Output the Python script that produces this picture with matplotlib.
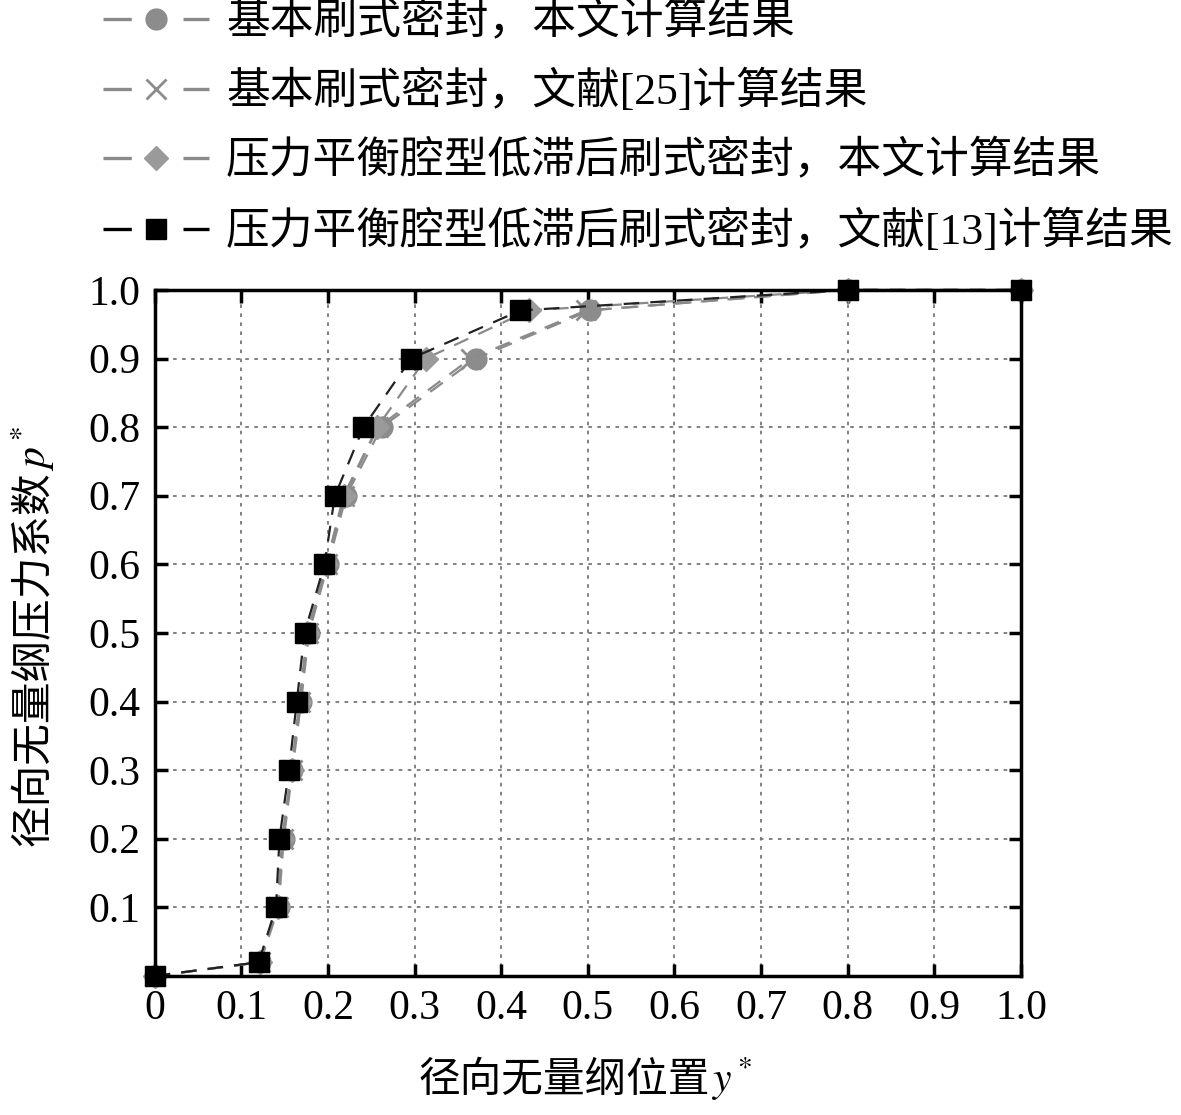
import matplotlib.pyplot as plt
import numpy as np
from matplotlib.lines import Line2D

plt.rcParams['font.family'] = ['Liberation Serif', 'Noto Sans CJK SC']
plt.rcParams['mathtext.fontset'] = 'stix'

# pressure coefficient levels shared by all series
p_vals = [0.0, 0.02, 0.1, 0.2, 0.3, 0.4, 0.5, 0.6, 0.7, 0.8, 0.9, 0.97, 1.0, 1.0]

# basic brush seal, this paper
y_basic = [0.0, 0.122, 0.143, 0.149, 0.159, 0.169, 0.178, 0.200, 0.221, 0.262, 0.371, 0.502, 0.80, 1.0]
# basic brush seal, ref [25]
y_basic_ref = [0.0, 0.121, 0.142, 0.148, 0.158, 0.168, 0.177, 0.199, 0.219, 0.258, 0.365, 0.498, 0.80, 1.0]
# pressure balance cavity seal, this paper
y_pb = [0.0, 0.121, 0.142, 0.147, 0.158, 0.167, 0.176, 0.198, 0.218, 0.257, 0.313, 0.432, 0.80, 1.0]
# pressure balance cavity seal, ref [13]
y_pb_ref = [0.0, 0.120, 0.140, 0.144, 0.155, 0.164, 0.173, 0.196, 0.208, 0.241, 0.296, 0.422, 0.80, 1.0]

labels = ["基本刷式密封，本文计算结果",
          "基本刷式密封，文献[25]计算结果",
          "压力平衡腔型低滞后刷式密封，本文计算结果",
          "压力平衡腔型低滞后刷式密封，文献[13]计算结果"]

W, H = 1181, 1115
fig = plt.figure(figsize=(W / 100, H / 100), dpi=100)
ax = fig.add_axes([0.131, 0.1247, 0.7335, 0.6153])

gray = "#8a8a8a"
dash = (0, (7, 5))
styles = [
    dict(color=gray, marker="o", ms=15, mfc="#8c8c8c", mec="#8c8c8c"),
    dict(color=gray, marker="x", ms=15, mew=2, mec="#8c8c8c"),
    dict(color=gray, marker="D", ms=12, mfc="#9a9a9a", mec="#9a9a9a"),
    dict(color="#222222", marker="s", ms=14, mfc="black", mec="black"),
]
for xs, st in zip([y_basic, y_basic_ref, y_pb, y_pb_ref], styles):
    ax.plot(xs, p_vals, linestyle=dash, lw=1.6, clip_on=False, **st)

ax.set_xlim(0, 1)
ax.set_ylim(0, 1)
xt = np.round(np.arange(0, 1.01, 0.1), 1)
yt = np.round(np.arange(0.1, 1.01, 0.1), 1)
ax.set_xticks(xt)
ax.set_xticklabels(["0"] + [f"{v:.1f}" for v in xt[1:]])
ax.set_yticks(yt)
ax.set_yticklabels([f"{v:.1f}" for v in yt])
ax.tick_params(direction="in", length=9, width=2.5, labelsize=30,
               top=True, right=True, pad=10)
for s in ax.spines.values():
    s.set_linewidth(2.5)
ax.grid(True, linestyle=(0, (2, 3)), color="#777777", linewidth=1.3)

# legend with one long dash each side of the marker
handles = []
for st in styles:
    lc = st["color"] if st["marker"] != "s" else "black"
    h = Line2D([], [], linestyle=(0, (8.5, 15.5)), lw=2.4, **{**st, "color": lc})
    handles.append(h)
lfs = 31.5
fig.legend(handles, labels, loc="upper left", bbox_to_anchor=(103 / W, 1 - 1 / H),
           frameon=False, fontsize=lfs, handlelength=76 / lfs, handletextpad=0.4,
           labelspacing=0.62, borderaxespad=0, borderpad=0)

# axis labels: CJK part and math part drawn as separate texts
renderer = fig.canvas.get_renderer()
fs = 30
xl1 = fig.text(0, 0, "径向无量纲位置", fontsize=fs, ha="left", va="baseline")
xl2 = fig.text(0, 0, r"$y^*$", fontsize=fs, ha="left", va="baseline")
w1 = xl1.get_window_extent(renderer).width
w2 = xl2.get_window_extent(renderer).width
x_start = 585 - (w1 + w2) / 2
xl1.set_position((x_start / W, 1 - 1092 / H))
xl2.set_position(((x_start + w1 + 1) / W, 1 - 1092 / H))

yl1 = fig.text(0, 0, "径向无量纲压力系数", fontsize=fs, rotation=90,
               rotation_mode="anchor", ha="left", va="baseline")
yl2 = fig.text(0, 0, r"$p^*$", fontsize=fs, rotation=90,
               rotation_mode="anchor", ha="left", va="baseline")
h1 = yl1.get_window_extent(renderer).height
h2 = yl2.get_window_extent(renderer).height
y_start = 636 + (h1 + h2) / 2
yl1.set_position((46 / W, 1 - y_start / H))
yl2.set_position((46 / W, 1 - (y_start - h1 - 1) / H))

plt.savefig("out.png", dpi=100)
